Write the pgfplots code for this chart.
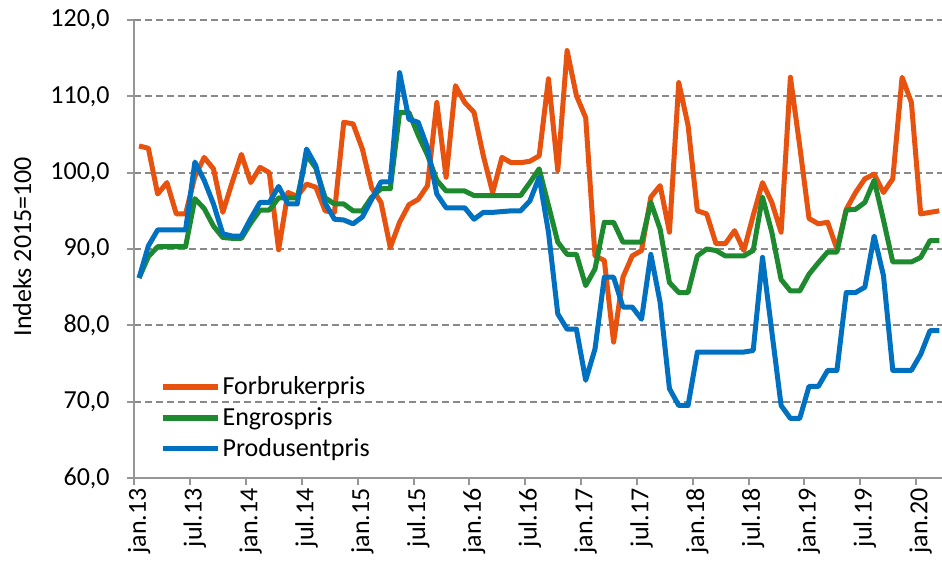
\documentclass[border=0pt]{standalone}
\usepackage{fontspec}
\setmainfont{Carlito}
\usepackage{pgfplots}
\pgfplotsset{compat=1.18}
\usepackage{pgfplotstable}

\definecolor{corange}{RGB}{232,82,15}
\definecolor{cgreen}{RGB}{30,138,48}
\definecolor{cblue}{RGB}{0,112,192}
\definecolor{cgrid}{RGB}{137,137,137}
\definecolor{caxis}{RGB}{150,150,150}

\pgfplotstableread{
i f e p
0 103.5 86.2 86.2
1 103.2 89.0 90.4
2 97.2 90.3 92.5
3 98.7 90.3 92.5
4 94.6 90.3 92.5
5 94.6 90.3 92.5
6 99.5 96.6 101.4
7 102.0 95.3 99.0
8 100.5 93.0 95.9
9 94.8 91.5 92.0
10 98.7 91.4 91.7
11 102.4 91.4 91.7
12 98.7 93.4 94.0
13 100.7 95.1 96.1
14 100.0 95.1 96.1
15 89.9 96.7 98.2
16 97.4 96.7 95.9
17 96.9 96.7 95.9
18 98.5 102.3 103.1
19 98.1 100.6 100.9
20 95.0 96.7 96.0
21 94.8 95.9 93.9
22 106.6 95.9 93.8
23 106.4 95.0 93.3
24 103.1 95.0 94.2
25 98.0 96.8 96.5
26 96.1 97.9 98.8
27 90.2 97.9 98.8
28 93.5 107.9 113.1
29 95.8 107.9 107.0
30 96.5 104.9 106.6
31 98.3 102.3 103.3
32 109.2 99.0 97.2
33 99.4 97.6 95.4
34 111.4 97.6 95.4
35 109.2 97.6 95.4
36 107.9 97.0 93.9
37 102.2 97.0 94.8
38 97.4 97.0 94.8
39 102.0 97.0 94.9
40 101.3 97.0 95.0
41 101.3 97.0 95.0
42 101.5 98.7 96.3
43 102.2 100.5 99.4
44 112.3 95.7 92.2
45 100.3 90.9 81.5
46 116.0 89.3 79.5
47 110.1 89.3 79.5
48 107.2 85.2 72.8
49 89.1 87.4 76.9
50 88.5 93.5 86.3
51 77.8 93.5 86.3
52 86.3 90.9 82.4
53 89.1 90.9 82.4
54 89.8 90.9 80.8
55 96.8 96.1 89.3
56 98.3 92.6 83.0
57 92.2 85.6 71.7
58 111.8 84.3 69.5
59 106.2 84.3 69.5
60 95.0 89.1 76.5
61 94.6 90.0 76.5
62 90.7 89.8 76.5
63 90.7 89.1 76.5
64 92.4 89.1 76.5
65 89.8 89.1 76.5
66 94.4 89.8 76.7
67 98.7 96.8 88.9
68 96.1 92.2 79.2
69 92.2 86.0 69.5
70 112.5 84.5 67.8
71 103.5 84.5 67.8
72 94.0 86.7 72.0
73 93.3 88.2 72.0
74 93.5 89.6 74.1
75 90.0 89.6 74.1
76 95.2 95.1 84.3
77 97.4 95.2 84.3
78 99.2 96.1 85.0
79 99.8 99.0 91.7
80 97.4 93.8 86.5
81 99.2 88.3 74.1
82 112.5 88.3 74.1
83 109.2 88.3 74.1
84 94.6 88.9 76.2
85 94.8 91.1 79.3
86 95.0 91.1 79.3
}\data

\begin{document}
\begin{tikzpicture}
\begin{axis}[
  at={(0,0)}, anchor=south west,
  scale only axis, width=403.8pt, height=229pt,
  xmin=-0.5, xmax=86.29, ymin=60, ymax=120,
  axis x line*=bottom, axis y line*=left,
  axis line style={caxis, line width=1pt},
  ytick={60,70,80,90,100,110,120},
  yticklabels={{60,0},{70,0},{80,0},{90,0},{100,0},{110,0},{120,0}},
  yticklabel style={inner sep=0pt, font=\fontsize{13}{15}\selectfont},
  yticklabel shift=8.7pt,
  ymajorgrids,
  grid style={cgrid, line width=1pt, dash pattern=on 3.5pt off 2pt},
  tick align=outside,
  major tick length=3.5pt,
  tick style={caxis, line width=1pt},
  xtick={-0.5,5.5,...,83.5},
  xticklabels={},
  extra x ticks={0,6,...,84},
  extra x tick labels={jan.13,jul.13,jan.14,jul.14,jan.15,jul.15,jan.16,jul.16,jan.17,jul.17,jan.18,jul.18,jan.19,jul.19,jan.20},
  extra x tick style={major tick length=0pt, xticklabel shift=5pt,
     tick label style={rotate=90, anchor=east, inner sep=0pt, font=\fontsize{13}{15}\selectfont}},
  ylabel={Indeks 2015=100},
  every axis y label/.style={at={(axis description cs:-0.139,0.505)}, rotate=90, anchor=center, font=\fontsize{13}{15}\selectfont},
  legend style={at={(axis description cs:0.0317,0.227)}, anchor=north west, draw=none, fill=none,
     inner sep=0pt, row sep=3pt, font=\fontsize{13}{15}\selectfont,
     nodes={inner sep=1pt}},
  legend cell align=left,
  legend image code/.code={\draw[#1, line width=2.6pt] (0pt,0pt) -- (27.5pt,0pt);},
  every axis plot/.append style={line width=2.5pt, line join=round},
]
\addplot[corange] table[x=i, y=f] {\data};
\addlegendentry{Forbrukerpris}
\addplot[cgreen] table[x=i, y=e] {\data};
\addlegendentry{Engrospris}
\addplot[cblue] table[x=i, y=p] {\data};
\addlegendentry{Produsentpris}
\end{axis}
\pgfresetboundingbox
\path[use as bounding box] (-67.2pt,-44pt) rectangle (403.8pt,239pt);
\end{tikzpicture}
\end{document}
